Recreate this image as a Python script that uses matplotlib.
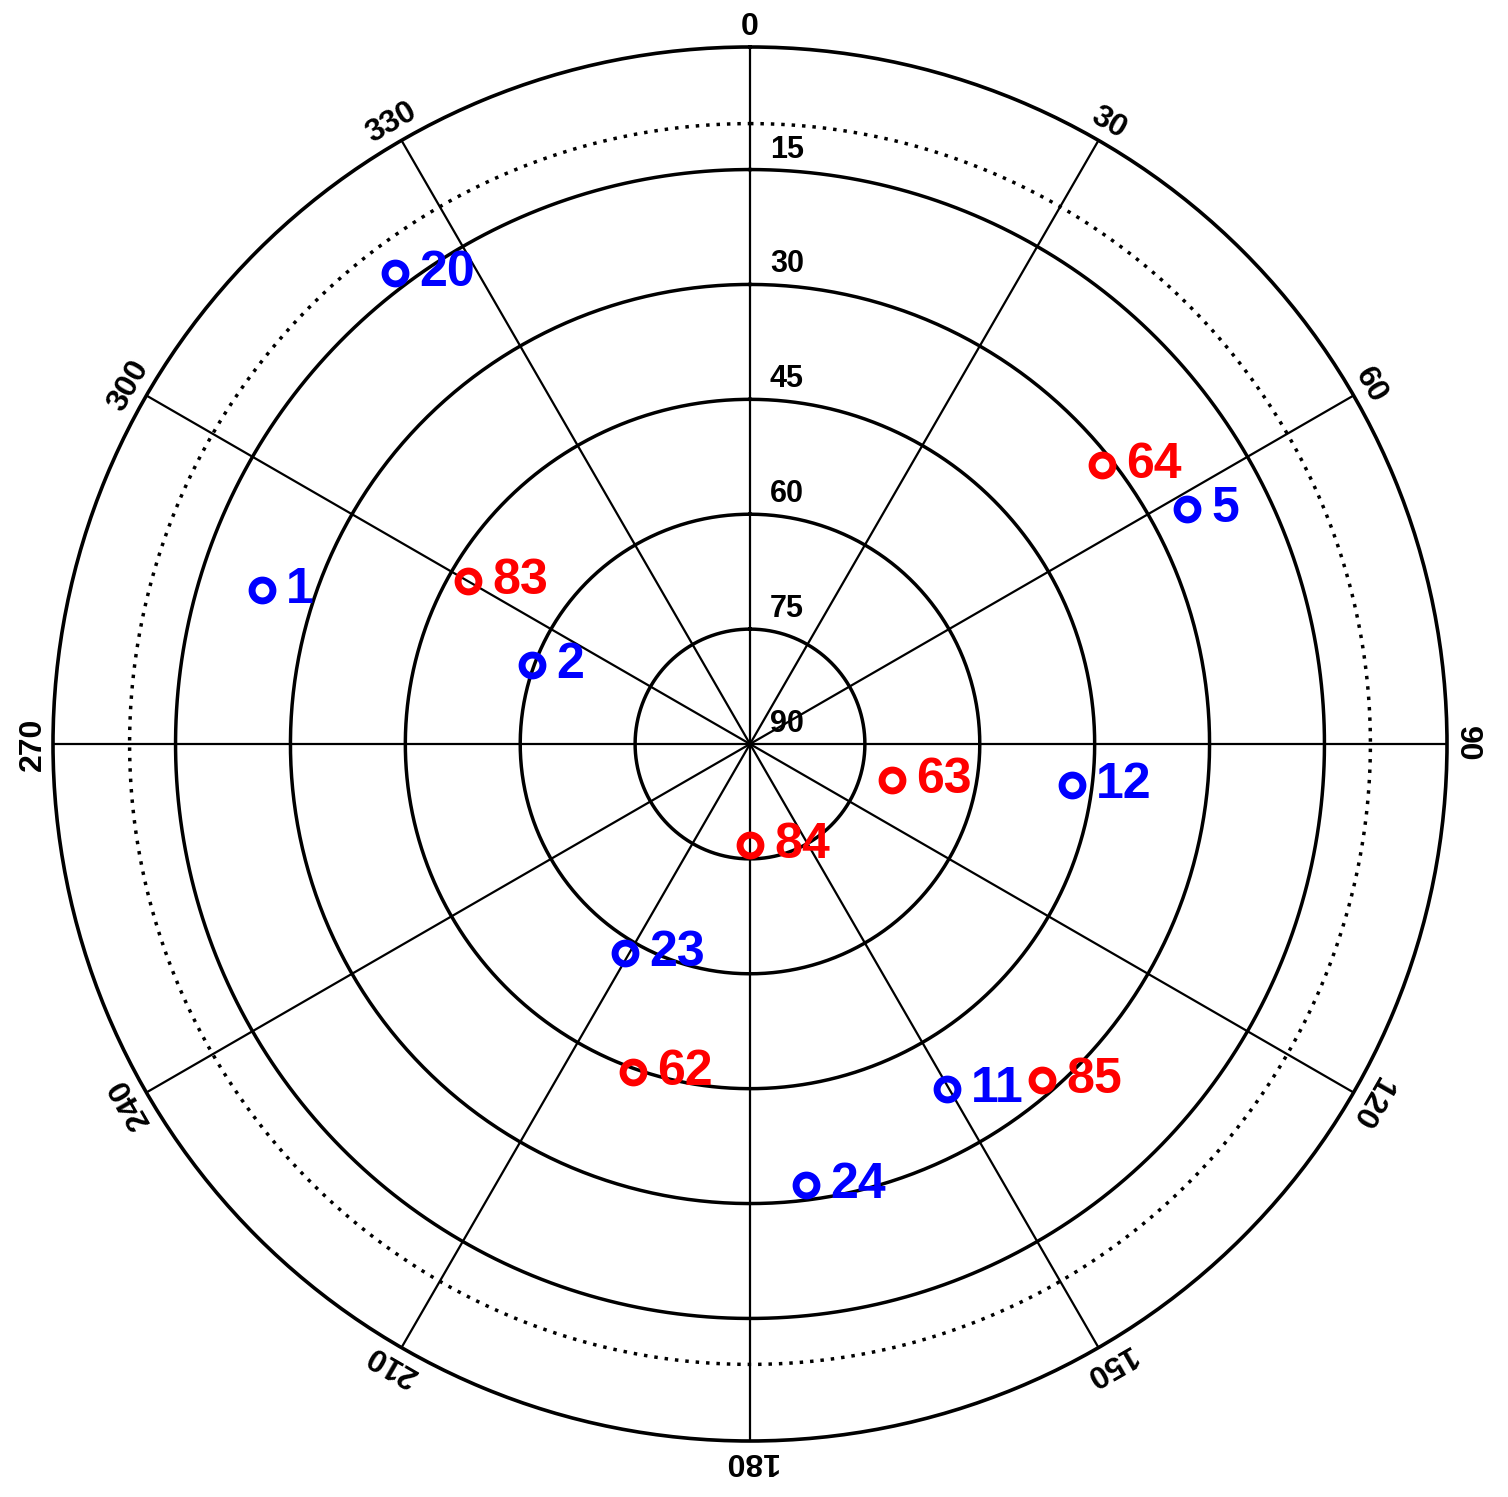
import numpy as np
import matplotlib
matplotlib.use("Agg")
import matplotlib.pyplot as plt

blue_ids = ["20", "1", "2", "5", "12", "23", "11", "24"]
blue_az = [323, 287.5, 290, 61.8, 97.3, 210.9, 150.3, 172.8]
blue_el = [13.0, 23.2, 59.7, 25.2, 47.6, 58.2, 38.1, 31.9]
red_ids = ["83", "64", "63", "84", "62", "85"]
red_az = [300, 51.6, 104.2, 180, 199.6, 139]
red_el = [47.5, 31.4, 70.9, 76.8, 44.6, 31.8]
ring_labels = ["90", "75", "60", "45", "30", "15"]
az_labels = list(range(0, 360, 30))

plt.rcParams['font.family'] = ['Liberation Sans', 'DejaVu Sans']
plt.rcParams['font.weight'] = 'bold'
fig = plt.figure(figsize=(15.08, 14.97), dpi=100)
ax = fig.add_axes([53/1508, 56/1497, 1394/1508, 1394/1497], projection='polar')
ax.set_theta_zero_location('N')
ax.set_theta_direction(-1)
R = 91
ax.set_ylim(0, R)
ax.grid(False)
ax.set_xticks([]); ax.set_yticks([])
ax.spines['polar'].set_linewidth(2.6)

th = np.linspace(0, 2*np.pi, 720)
for r in [15, 30, 45, 60, 75]:
    ax.plot(th, np.full_like(th, r), color='k', lw=2.5)
ax.plot(th, np.full_like(th, 81), color='k', lw=2.5, ls=(0, (1, 2.0)))
for a in range(0, 360, 30):
    ax.plot([np.radians(a)]*2, [0, R], color='k', lw=1.6)

pxper = 697 / R
for i, lab in enumerate(ring_labels):
    rpx = i*15*pxper + 20
    t = np.arctan2(37, rpx)
    ax.text(t, np.hypot(37, rpx)/pxper, lab, fontsize=22, ha='center', va='center')

for a in az_labels:
    ax.text(np.radians(a), 93.6, str(a), fontsize=23, ha='center', va='center',
            rotation=-a, rotation_mode='anchor', clip_on=False)

def draw(ids, az, el, c):
    for s, a, e in zip(ids, az, el):
        t = np.radians(a); r = 90 - e
        ax.plot(t, r, 'o', mfc='none', mec=c, mew=5, ms=15)
        x = r*pxper*np.sin(t); y = r*pxper*np.cos(t)
        x += 24
        ax.text(np.arctan2(x, y), np.hypot(x, y)/pxper, s, color=c, fontsize=36,
                ha='left', va='center')

draw(blue_ids, blue_az, blue_el, 'blue')
draw(red_ids, red_az, red_el, 'red')
fig.savefig('out.png', dpi=100)
